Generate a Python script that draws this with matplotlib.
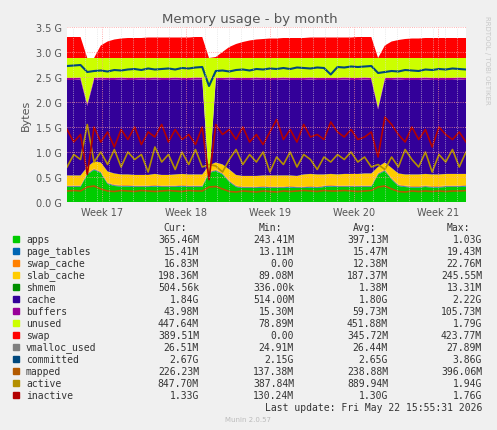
import numpy as np
import matplotlib.pyplot as plt

# sample positions in days (60 samples across ~4.75 weeks)
days = np.linspace(0, 33.25, 60)

apps = [0.30,0.30,0.30,0.55,0.64,0.58,0.36,0.32,0.31,0.31,0.30,0.30,0.30,0.31,0.30,0.30,0.30,0.31,0.30,0.30,0.30,0.58,0.62,0.55,0.40,0.30,0.28,0.28,0.28,0.29,
        0.28,0.28,0.28,0.29,0.28,0.28,0.29,0.28,0.30,0.31,0.30,0.30,0.30,0.30,0.30,0.30,0.55,0.62,0.45,0.32,0.30,0.29,0.29,0.30,0.29,0.29,0.30,0.30,0.30,0.31]
page_tables = [0.015] * 60
swap_cache = [0.015] * 60
slab_cache = [0.20,0.20,0.20,0.12,0.14,0.18,0.22,0.22,0.21,0.21,0.21,0.21,0.21,0.22,0.21,0.21,0.22,0.22,0.22,0.22,0.22,0.12,0.14,0.17,0.22,0.21,0.21,0.21,0.21,0.21,
              0.22,0.22,0.22,0.21,0.21,0.24,0.24,0.24,0.22,0.22,0.22,0.23,0.23,0.23,0.24,0.24,0.12,0.14,0.20,0.22,0.22,0.23,0.23,0.23,0.23,0.23,0.23,0.23,0.23,0.22]
shmem = [0.002] * 60
cache_top = [2.44,2.44,2.45,1.92,2.44,2.45,2.44,2.44,2.45,2.44,2.44,2.45,2.44,2.45,2.44,2.44,2.45,2.44,2.44,2.45,2.45,0.40,2.44,2.44,2.45,2.44,2.44,2.44,2.45,2.44,
             2.44,2.44,2.45,2.44,2.44,2.44,2.45,2.44,2.44,2.44,2.44,2.45,2.44,2.44,2.45,2.44,1.85,2.44,2.44,2.45,2.44,2.44,2.44,2.45,2.44,2.44,2.44,2.44,2.45,2.44]
buffers = [0.04] * 60
unused_top = [2.88] * 60
swap = [0.42,0.42,0.42,0.00,0.00,0.25,0.33,0.37,0.39,0.40,0.40,0.40,0.41,0.41,0.41,0.41,0.41,0.41,0.41,0.42,0.42,0.00,0.02,0.12,0.22,0.28,0.32,0.35,0.37,0.38,
        0.39,0.39,0.40,0.40,0.40,0.40,0.41,0.41,0.41,0.41,0.41,0.41,0.41,0.42,0.42,0.42,0.00,0.25,0.33,0.36,0.38,0.39,0.39,0.40,0.40,0.40,0.40,0.40,0.40,0.40]
committed = [2.72,2.73,2.74,2.60,2.62,2.63,2.61,2.64,2.63,2.65,2.66,2.64,2.67,2.65,2.66,2.67,2.65,2.68,2.67,2.69,2.70,2.32,2.62,2.63,2.61,2.64,2.65,2.63,2.66,2.65,
             2.67,2.66,2.68,2.66,2.69,2.68,2.67,2.69,2.68,2.55,2.70,2.69,2.71,2.70,2.71,2.72,2.58,2.60,2.62,2.61,2.64,2.63,2.62,2.65,2.64,2.66,2.65,2.67,2.66,2.65]
mapped = [0.22,0.23,0.22,0.30,0.32,0.26,0.22,0.21,0.23,0.22,0.21,0.23,0.22,0.21,0.22,0.23,0.22,0.21,0.23,0.22,0.22,0.30,0.31,0.26,0.21,0.20,0.22,0.21,0.20,0.22,
          0.21,0.20,0.22,0.21,0.22,0.23,0.22,0.21,0.23,0.22,0.22,0.23,0.22,0.21,0.22,0.23,0.30,0.32,0.26,0.21,0.20,0.22,0.21,0.22,0.21,0.22,0.21,0.22,0.22,0.23]
active = [0.70,0.95,0.85,1.55,0.80,1.00,0.75,1.05,0.70,1.00,0.85,0.95,0.60,1.10,0.80,0.95,0.65,1.00,0.75,1.05,0.70,0.75,0.72,0.60,0.85,1.05,0.75,0.95,0.80,1.00,
          0.60,0.90,0.75,1.00,0.70,0.95,0.85,0.65,0.90,0.80,0.95,0.85,1.00,0.80,0.90,0.70,0.75,0.65,0.90,0.70,1.05,0.85,0.70,1.00,0.60,0.95,0.80,1.05,0.70,1.00]
inactive = [1.45,1.20,1.35,0.55,1.50,1.20,1.40,1.10,1.45,1.25,1.50,1.15,1.40,1.30,1.55,1.20,1.45,1.25,1.35,1.15,1.50,0.45,1.55,1.35,1.45,1.25,1.50,1.20,1.35,1.15,
            1.40,1.65,1.25,1.45,1.20,1.55,1.30,1.35,1.25,1.60,1.40,1.30,1.45,1.25,1.30,1.40,0.90,1.70,1.55,1.35,1.20,1.50,1.25,1.45,1.10,1.50,1.35,1.25,1.40,1.20]

week_pos = [2.9, 9.9, 16.9, 23.9, 30.9]
week_labels = ['Week 17', 'Week 18', 'Week 19', 'Week 20', 'Week 21']

names = ['apps', 'page_tables', 'swap_cache', 'slab_cache', 'shmem', 'cache', 'buffers',
         'unused', 'swap', 'vmalloc_used', 'committed', 'mapped', 'active', 'inactive']
colors = ['#00CC00', '#0066B3', '#FF8000', '#FFCC00', '#008F00', '#330099', '#990099',
          '#CCFF00', '#FF0000', '#808080', '#00487D', '#B35A00', '#B38F00', '#B30000']
cur = ['365.46M', '15.41M', '16.83M', '198.36M', '504.56k', '1.84G', '43.98M',
       '447.64M', '389.51M', '26.51M', '2.67G', '226.23M', '847.70M', '1.33G']
mins = ['243.41M', '13.11M', '0.00', '89.08M', '336.00k', '514.00M', '15.30M',
        '78.89M', '0.00', '24.91M', '2.15G', '137.38M', '387.84M', '130.24M']
avgs = ['397.13M', '15.47M', '12.38M', '187.37M', '1.38M', '1.80G', '59.73M',
        '451.88M', '345.72M', '26.44M', '2.65G', '238.88M', '889.94M', '1.30G']
maxs = ['1.03G', '19.43M', '22.76M', '245.55M', '13.31M', '2.22G', '105.73M',
        '1.79G', '423.77M', '27.89M', '3.86G', '396.06M', '1.94G', '1.76G']

apps = np.array(apps)
below_cache = apps + np.array(page_tables) + np.array(swap_cache) + np.array(slab_cache) + np.array(shmem)
cache = np.array(cache_top) - below_cache
buf_top = np.array(cache_top) + np.array(buffers)
unused = np.array(unused_top) - buf_top

W, H = 497, 431
fig = plt.figure(figsize=(W / 100, H / 100), dpi=100, facecolor='#F0F0F0')
ax = fig.add_axes([67 / W, 1 - 203 / H, 399 / W, 175 / H])
ax.set_facecolor('white')

ax.stackplot(days, apps, page_tables, swap_cache, slab_cache, shmem, cache, buffers, unused, swap,
             colors=colors[:9], linewidth=0)
ax.plot(days, committed, color=colors[10], lw=1.5)
ax.plot(days, mapped, color=colors[11], lw=1.2)
ax.plot(days, active, color=colors[12], lw=1.2)
ax.plot(days, inactive, color=colors[13], lw=1.2)

ax.set_xlim(0, 33.25)
ax.set_ylim(0, 3.5e0)
ax.set_yticks(np.arange(0, 3.51, 0.5))
ax.set_yticklabels(['%.1f G' % v for v in np.arange(0, 3.51, 0.5)])
ax.set_xticks(week_pos)
ax.set_xticklabels(week_labels)
ax.set_xticks(np.arange(0.5, 33.25, 1), minor=True)
ax.tick_params(labelsize=7, colors='#555555', length=0, which='both')
ax.grid(True, which='major', color='#FF9999', ls=':', lw=0.6)
ax.grid(True, which='minor', axis='x', color='#DDDDDD', ls=':', lw=0.5)
ax.set_axisbelow(False)
for s in ax.spines.values():
    s.set_visible(False)
ax.set_ylabel('Bytes', fontsize=8, color='#555555')

fig.text(250 / W, 1 - 19 / H, 'Memory usage - by month', ha='center', va='center', fontsize=9.5, color='#555555')
fig.text(487 / W, 1 - 60 / H, 'RRDTOOL / TOBI OETIKER', rotation=270, ha='center', va='center',
         fontsize=5, color='#C8C8C8')

mono = 'DejaVu Sans Mono'
fs = 7
hy = 228
for txt, xr in [('Cur:', 187), ('Min:', 282), ('Avg:', 376), ('Max:', 470)]:
    fig.text(xr / W, 1 - hy / H, txt, ha='right', va='center', family=mono, fontsize=fs, color='#333333')
for i, n in enumerate(names):
    y = 1 - (240 + 12 * i) / H
    fig.patches.append(plt.Rectangle((13 / W, y - 3 / H), 6 / W, 6 / H, transform=fig.transFigure,
                                     color=colors[i]))
    fig.text(26 / W, y, n, ha='left', va='center', family=mono, fontsize=fs, color='#333333')
    for val, xr in [(cur[i], 199), (mins[i], 294), (avgs[i], 388), (maxs[i], 482)]:
        fig.text(xr / W, y, val, ha='right', va='center', family=mono, fontsize=fs, color='#333333')
fig.text(482 / W, 1 - 408 / H, 'Last update: Fri May 22 15:55:31 2026', ha='right', va='center',
         family=mono, fontsize=fs, color='#333333')
fig.text(248 / W, 1 - 420 / H, 'Munin 2.0.57', ha='center', va='center', fontsize=5, color='#BBBBBB')

fig.savefig('out.png', dpi=100, facecolor=fig.get_facecolor())
